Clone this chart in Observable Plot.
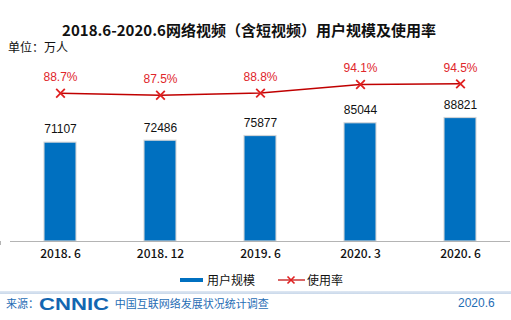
<!DOCTYPE html>
<html>
<head>
<meta charset="utf-8">
<script src="https://cdn.jsdelivr.net/npm/d3@7"></script>
<script src="https://cdn.jsdelivr.net/npm/@observablehq/plot@0.6"></script>
<style>
  html, body { margin: 0; padding: 0; background: #fff; }
  #wrap { position: relative; width: 511px; height: 320px; overflow: hidden; background: #fff; font-family: "Noto Sans CJK SC", "Liberation Sans", sans-serif; }
  #title { position: absolute; left: 0; width: 498px; top: 19px; text-align: center; font-weight: bold; font-size: 15px; color: #111; line-height: 22px; }
  #unit { position: absolute; left: 8px; top: 39px; font-size: 12px; color: #111; line-height: 16px; }
  #chart { position: absolute; left: 0; top: 50px; }
  #legend { position: absolute; top: 271px; left: 0; width: 511px; height: 18px; font-size: 12px; color: #111; }
  #legend .sw1 { position: absolute; left: 180px; top: 7px; width: 23px; height: 4px; background: #0070c0; }
  #legend .t1 { position: absolute; left: 207px; top: 0px; line-height: 18px; }
  #legend .sw2 { position: absolute; left: 278px; top: 0px; }
  #legend .t2 { position: absolute; left: 307px; top: 0px; line-height: 18px; }
  #rule { position: absolute; left: 0; top: 291px; width: 511px; height: 3px; background: linear-gradient(#dfe8f3, #c9d8ea); }
  #src { position: absolute; left: 6px; top: 295px; font-size: 11px; color: #1f6db5; line-height: 16px; white-space: nowrap; }
  #src .logo { display: inline-block; font: 900 17px "Liberation Sans", "DejaVu Sans", sans-serif; color: #1366b1; letter-spacing: 0px; transform: scaleX(1.3); transform-origin: left center; margin-right: 22px; vertical-align: -2px; }
  #date { position: absolute; left: 458px; top: 295px; font: 12px "Liberation Sans", sans-serif; color: #1f6db5; line-height: 16px; }
</style>
</head>
<body>
<div id="wrap">
  <div id="title">2018.6-2020.6网络视频（含短视频）用户规模及使用率</div>
  <div id="unit">单位：万人</div>
  <div id="chart"></div>
  <div id="legend">
    <div class="sw1"></div><div class="t1">用户规模</div>
    <svg class="sw2" width="27" height="18"><line x1="0" y1="9" x2="27" y2="9" stroke="#c00000" stroke-width="1.2"/><path d="M9.5,5.5L16.5,12.5M16.5,5.5L9.5,12.5" stroke="#e02020" stroke-width="1.6"/></svg>
    <div class="t2">使用率</div>
  </div>
  <div id="rule"></div>
  <div id="src">来源：<span class="logo">CNNIC</span>中国互联网络发展状况统计调查</div>
  <div id="date">2020.6</div>
</div>
<script>
// ---- data ----
const periods = ["2018.6", "2018.12", "2019.6", "2020.3", "2020.6"];
const periodLabels = ["2018. 6", "2018. 12", "2019. 6", "2020. 3", "2020. 6"];
const users = [71107, 72486, 75877, 85044, 88821];       // 万人
const usageRate = [88.7, 87.5, 88.8, 94.1, 94.5];          // %

// ---- scales: primary (users) and secondary (rate) axes ----
const userMax = 137400;
const rateMin = -2.8, rateMax = 115.1;
const rateToPrimary = p => (p - rateMin) / (rateMax - rateMin) * userMax;

const rows = periods.map((p, i) => ({period: p, users: users[i], rate: usageRate[i]}));
const labelOf = Object.fromEntries(periods.map((p, i) => [p, periodLabels[i]]));

// tick marks at band boundaries, placed through the x scale
function bandTicks(...args) {
  const scales = args.find(a => a && typeof a.x === "function" && typeof a.y === "function");
  const x = scales.x, y = scales.y;
  const bw = x.bandwidth || 0;
  const c0 = x(periods[0]) + bw / 2, c1 = x(periods[1]) + bw / 2;
  const step = c1 - c0;
  const y0 = y(0);
  const g = document.createElementNS("http://www.w3.org/2000/svg", "g");
  const edges = periods.map(p => x(p) + bw / 2 - step / 2);
  edges.push(x(periods[periods.length - 1]) + bw / 2 + step / 2);
  for (const e of edges) {
    const l = document.createElementNS("http://www.w3.org/2000/svg", "line");
    l.setAttribute("x1", Math.round(e) + 0.5); l.setAttribute("x2", Math.round(e) + 0.5);
    l.setAttribute("y1", y0); l.setAttribute("y2", y0 + 4);
    l.setAttribute("stroke", "#b4b4b4");
    g.appendChild(l);
  }
  return g;
}

const chart = Plot.plot({
  width: 511,
  height: 216,
  marginLeft: 10,
  marginRight: 1,
  marginTop: 0,
  marginBottom: 25,
  style: {background: "transparent", overflow: "visible"},
  x: {domain: periods, paddingInner: 0.68, paddingOuter: 0.34, label: null},
  y: {domain: [0, userMax], axis: null},
  marks: [
    Plot.barY(rows, {x: "period", y: "users", fill: "#0070c0", stroke: "#d6d6d6", strokeWidth: 1.2, strokeOpacity: 0.9}),
    Plot.ruleY([0], {stroke: "#b4b4b4", strokeWidth: 1}),
    bandTicks,
    Plot.axisX({tickSize: 0, tickPadding: 8, tickFormat: d => labelOf[d], fontSize: 12,
      fontFamily: "\"Noto Sans CJK SC\", sans-serif", fontWeight: 500, fill: "#111", label: null}),
    Plot.text(rows, {x: "period", y: "users", text: d => String(d.users), dy: -13, fontSize: 12,
      fontFamily: "\"Liberation Sans\", Arial, sans-serif", fill: "#111"}),
    Plot.line(rows, {x: "period", y: d => rateToPrimary(d.rate), stroke: "#c00000", strokeWidth: 1.5}),
    Plot.dot(rows, {x: "period", y: d => rateToPrimary(d.rate), symbol: "times", r: 4, stroke: "#e02020", strokeWidth: 1.8}),
    Plot.text(rows, {x: "period", y: d => rateToPrimary(d.rate), text: d => d.rate.toFixed(1) + "%", dy: -16, fontSize: 12,
      fontFamily: "\"Liberation Sans\", Arial, sans-serif", fill: "#e0262b"})
  ]
});
document.getElementById("chart").appendChild(chart);
</script>
</body>
</html>
